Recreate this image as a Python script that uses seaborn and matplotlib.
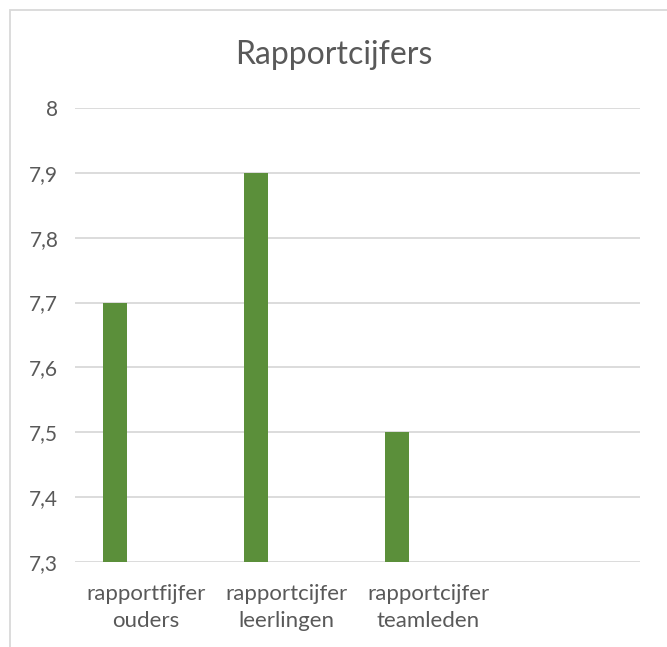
import numpy as np
import pandas as pd
import seaborn as sns
import matplotlib.pyplot as plt
from matplotlib.patches import Rectangle
from matplotlib.ticker import FuncFormatter

categories = ['rapportfijfer\nouders', 'rapportcijfer\nleerlingen', 'rapportcijfer\nteamleden', ' ']
series = ['Reeks1', 'Reeks2']
values_1 = [7.7, 7.9, 7.5, np.nan]
values_2 = [np.nan, np.nan, np.nan, np.nan]

df = pd.DataFrame({
    'categorie': categories * 2,
    'reeks': [series[0]] * 4 + [series[1]] * 4,
    'cijfer': values_1 + values_2,
})

sns.set_style('white')
plt.rcParams['font.family'] = ['Lato', 'DejaVu Sans']
text_col = '#595959'

fig = plt.figure(figsize=(6.67, 6.47), dpi=100)
ax = fig.add_axes([75 / 667, 1 - 562 / 647, 565 / 667, 454 / 647])

sns.barplot(data=df, x='categorie', y='cijfer', hue='reeks', order=categories,
            hue_order=series, palette=['#5B8F3A', '#5B8F3A'], width=0.87, gap=0.61,
            saturation=1, legend=False, linewidth=0, ax=ax)

ax.set_ylim(7.3, 8.0)
ax.set_xlim(-0.5, 3.5)
ax.set_yticks(np.arange(7.3, 8.01, 0.1))
ax.yaxis.set_major_formatter(FuncFormatter(lambda v, p: f'{v:.1f}'.replace('.', ',').replace(',0', '')))
ax.grid(axis='y', color='#D9D9D9', linewidth=1.3)
ax.set_axisbelow(True)
for s in ax.spines.values():
    s.set_visible(False)
ax.tick_params(axis='y', length=0, pad=12, labelsize=15, labelcolor=text_col)
ax.tick_params(axis='x', length=0, pad=16, labelsize=16, labelcolor=text_col)
for lbl in ax.get_xticklabels():
    lbl.set_linespacing(1.4)
ax.set_xlabel('')
ax.set_ylabel('')

fig.text(0.5, 1 - 55 / 647, 'Rapportcijfers', ha='center', va='center', fontsize=23, color=text_col)
fig.patches.append(Rectangle((10 / 667, -0.1), 1.2, 1 - 10 / 647 + 0.1, transform=fig.transFigure,
                             fill=False, edgecolor='#D9D9D9', linewidth=1.3))

fig.savefig('out.png', dpi=100)
